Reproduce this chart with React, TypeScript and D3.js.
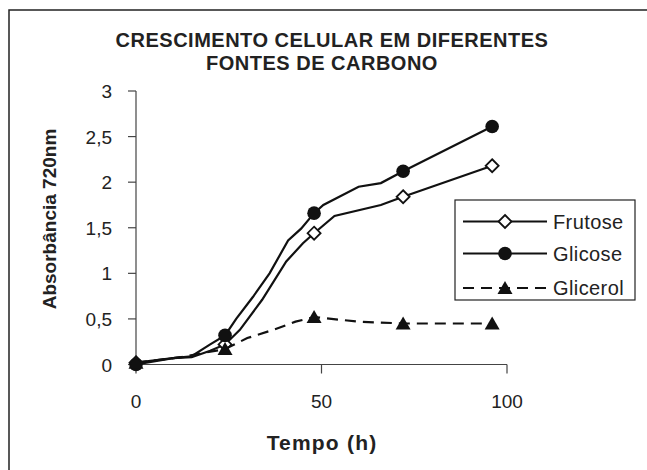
import React from "react";
import * as d3 from "d3";

type Pt = [number, number];

// tempo (h) e absorbância
const frutoseLine: Pt[] = [
  [0, 0.02], [10, 0.07], [15, 0.08], [20, 0.15], [24, 0.22], [28, 0.38],
  [34, 0.71], [40.5, 1.13], [45, 1.33], [48, 1.44], [53.5, 1.63], [66, 1.75],
  [72, 1.84], [96, 2.18],
];
const frutoseMarks: Pt[] = [[0, 0.02], [24, 0.22], [48, 1.44], [72, 1.84], [96, 2.18]];

const glicoseLine: Pt[] = [
  [0, 0.0], [10, 0.07], [15, 0.09], [20, 0.22], [24, 0.32], [27, 0.5],
  [31.5, 0.74], [36, 1.0], [41, 1.36], [44.5, 1.49], [48, 1.66], [50.5, 1.75],
  [60, 1.95], [66, 1.99], [72, 2.12], [96, 2.61],
];
const glicoseMarks: Pt[] = [[0, 0.0], [24, 0.32], [48, 1.66], [72, 2.12], [96, 2.61]];

const glicerolLine: Pt[] = [
  [0, 0.02], [12, 0.08], [24, 0.17], [30, 0.29], [37, 0.38], [43, 0.47],
  [48, 0.52], [60, 0.47], [72, 0.45], [96, 0.45],
];
const glicerolMarks: Pt[] = [[0, 0.02], [24, 0.17], [48, 0.52], [72, 0.45], [96, 0.45]];

const xTicks = [0, 50, 100];
const yTicks = [0, 0.5, 1, 1.5, 2, 2.5, 3];
const legendNames = ["Frutose", "Glicose", "Glicerol"];

const font = "'Liberation Sans', Arial, Helvetica, sans-serif";

const Marker = ({ kind, x, y }: { kind: string; x: number; y: number }) => {
  if (kind === "diamond") {
    return (
      <path
        d={`M${x},${y - 6.5}L${x + 6.5},${y}L${x},${y + 6.5}L${x - 6.5},${y}Z`}
        fill="#fff"
        stroke="#111"
        strokeWidth={1.8}
      />
    );
  }
  if (kind === "circle") {
    return <circle cx={x} cy={y} r={6.8} fill="#111" />;
  }
  return <path d={`M${x},${y - 7}L${x + 7.5},${y + 6}L${x - 7.5},${y + 6}Z`} fill="#111" />;
};

const App = () => {
  const width = 647;
  const height = 470;

  const xScale = d3.scaleLinear().domain([0, 100]).range([136, 507]);
  const yScale = d3.scaleLinear().domain([0, 3]).range([364.5, 91]);

  const line = d3
    .line<Pt>()
    .x((d) => xScale(d[0]))
    .y((d) => yScale(d[1]));

  const series = [
    { name: legendNames[0], data: frutoseLine, marks: frutoseMarks, kind: "diamond", dash: "" },
    { name: legendNames[1], data: glicoseLine, marks: glicoseMarks, kind: "circle", dash: "" },
    { name: legendNames[2], data: glicerolLine, marks: glicerolMarks, kind: "triangle", dash: "11 7" },
  ];

  const legendRows = [221.5, 253.5, 288];

  return (
    <svg
      width={width}
      height={height}
      style={{ position: "absolute", left: 0, top: 0, background: "#fff" }}
      fontFamily={font}
    >
      {/* moldura */}
      <rect x={9} y={10} width={680} height={500} fill="#fff" stroke="#222" strokeWidth={1.5} />

      <text x={332} y={47} textAnchor="middle" fontSize={20} fontWeight="bold" fill="#222" letterSpacing={0.5}>
        CRESCIMENTO CELULAR EM DIFERENTES
      </text>
      <text x={322} y={70} textAnchor="middle" fontSize={20} fontWeight="bold" fill="#222" letterSpacing={0.5}>
        FONTES DE CARBONO
      </text>

      {/* eixo y */}
      <line x1={136} x2={136} y1={yScale(3)} y2={yScale(0)} stroke="#444" strokeWidth={1.2} />
      {yTicks.map((t) => (
        <g key={t}>
          <line x1={128} x2={136} y1={yScale(t)} y2={yScale(t)} stroke="#444" strokeWidth={1.2} />
          <text x={112} y={yScale(t) + 7} textAnchor="end" fontSize={19} fill="#222">
            {d3.format("")(t).replace(".", ",")}
          </text>
        </g>
      ))}

      {/* eixo x */}
      <line x1={xScale(0)} x2={xScale(100)} y1={yScale(0)} y2={yScale(0)} stroke="#444" strokeWidth={1.2} />
      {xTicks.map((t) => (
        <g key={t}>
          <line x1={xScale(t)} x2={xScale(t)} y1={yScale(0)} y2={yScale(0) + 9} stroke="#444" strokeWidth={1.2} />
          <text x={xScale(t)} y={408} textAnchor="middle" fontSize={19} fill="#222">
            {t}
          </text>
        </g>
      ))}

      <text x={322} y={450} textAnchor="middle" fontSize={21} fontWeight="bold" fill="#222" letterSpacing={1.2}>
        Tempo (h)
      </text>
      <text
        transform="translate(56,219) rotate(-90)"
        textAnchor="middle"
        fontSize={19}
        fontWeight="bold"
        fill="#222"
      >
        Absorbância 720nm
      </text>

      {series.map((s) => (
        <g key={s.name}>
          <path d={line(s.data) || ""} fill="none" stroke="#111" strokeWidth={2.2} strokeDasharray={s.dash} />
          {s.marks.map((m, i) => (
            <Marker key={i} kind={s.kind} x={xScale(m[0])} y={yScale(m[1])} />
          ))}
        </g>
      ))}

      {/* legenda */}
      <rect x={455} y={200} width={180} height={100} fill="#fff" stroke="#222" strokeWidth={1.2} />
      {series.map((s, i) => (
        <g key={s.name}>
          <line x1={463} x2={547} y1={legendRows[i]} y2={legendRows[i]} stroke="#111" strokeWidth={2.2} strokeDasharray={s.dash} />
          <Marker kind={s.kind} x={505} y={legendRows[i]} />
          <text x={553} y={legendRows[i] + 7} fontSize={20} fill="#222" letterSpacing={0.4}>
            {s.name}
          </text>
        </g>
      ))}
    </svg>
  );
};

export default App;
